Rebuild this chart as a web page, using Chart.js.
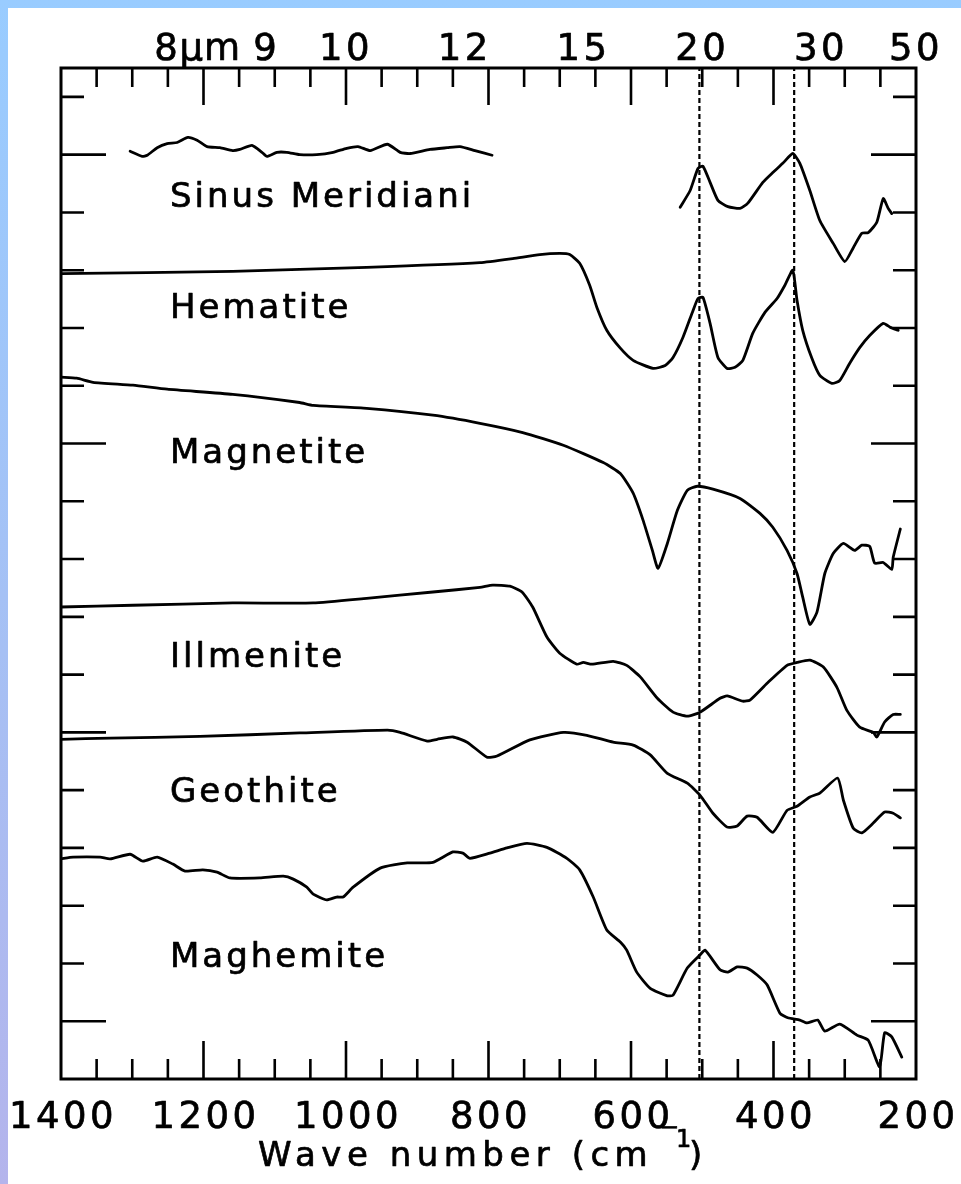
<!DOCTYPE html>
<html>
<head>
<meta charset="utf-8">
<title>Infrared spectra of iron oxides</title>
<script src="https://cdn.jsdelivr.net/npm/chart.js@4.4.1/dist/chart.umd.min.js"></script>
<style>
  html, body { margin: 0; padding: 0; }
  body {
    width: 961px; height: 1184px; overflow: hidden; position: relative;
    background: linear-gradient(to bottom, #99ccff 0%, #a6c0f4 55%, #b4b4ec 100%);
  }
  #wrap { position: absolute; left: 8px; top: 8px; width: 953px; height: 1176px; background: #fff; }
  canvas { display: block; }
</style>
</head>
<body>
<div id="wrap"><canvas id="spectraChart" width="953" height="1176"></canvas></div>
<script>
// wave numbers (cm-1) and offset values, one pair of arrays per curve
const sinusWn = [1303, 1286, 1279, 1265, 1251, 1237, 1222, 1209, 1195, 1177, 1159, 1149, 1132, 1118, 1111, 1097, 1083, 1065, 1041, 1018, 999, 983, 966, 942, 924, 910, 882, 858, 840, 819, 795,
  660,
  531, 517, 506, 499, 489, 478, 464, 447, 436, 415, 401, 387, 373, 363, 349, 335, 316, 300, 288, 276, 267, 255, 246, 239, 234];
const sinusVal = [16.06, 15.97, 15.99, 16.12, 16.19, 16.21, 16.30, 16.25, 16.14, 16.12, 16.07, 16.09, 16.16, 16.04, 15.97, 16.04, 16.04, 16.00, 16.00, 16.04, 16.11, 16.14, 16.07, 16.18, 16.04, 16.02, 16.09, 16.12, 16.14, 16.07, 15.99,
  null,
  15.09, 15.38, 15.76, 15.80, 15.52, 15.21, 15.10, 15.07, 15.16, 15.52, 15.69, 15.85, 16.02, 15.85, 15.38, 14.86, 14.46, 14.15, 14.39, 14.64, 14.65, 14.83, 15.24, 15.07, 14.98];

const hematiteWn = [1400, 1159, 971, 812, 766, 728, 700, 686, 672, 658, 648, 634, 615, 597, 569, 552, 541, 527, 513, 506, 499, 489, 478, 465, 454, 443, 429, 412, 395, 384, 373, 367, 359, 346, 335, 318, 307, 293, 279, 265, 246, 236, 225];
const hematiteVal = [13.94, 13.98, 14.05, 14.13, 14.20, 14.27, 14.29, 14.27, 14.12, 13.74, 13.36, 12.96, 12.65, 12.44, 12.30, 12.35, 12.49, 12.84, 13.30, 13.51, 13.53, 13.08, 12.49, 12.30, 12.32, 12.44, 12.91, 13.27, 13.51, 13.74, 14.00, 13.48, 12.96, 12.47, 12.18, 12.04, 12.09, 12.39, 12.66, 12.87, 13.08, 13.01, 12.96];

const magnetiteWn = [1400, 1378, 1355, 1299, 1251, 1159, 1065, 1046, 971, 878, 812, 752, 695, 639, 615, 597, 583, 570, 562, 549, 535, 521, 507, 485, 447, 419, 401, 381, 367, 359, 349, 339, 328, 316, 302, 286, 276, 265, 258, 246, 234, 232, 222];
const magnetiteVal = [12.15, 12.13, 12.06, 12.01, 11.94, 11.85, 11.71, 11.66, 11.61, 11.49, 11.35, 11.19, 10.97, 10.67, 10.48, 10.14, 9.67, 9.15, 8.84, 9.27, 9.84, 10.19, 10.26, 10.21, 10.05, 9.79, 9.55, 9.15, 8.75, 8.34, 7.87, 8.08, 8.75, 9.10, 9.27, 9.15, 9.24, 9.22, 8.93, 8.94, 8.82, 9.03, 9.52];

const ilmeniteWn = [1400, 1299, 1159, 1046, 971, 878, 812, 794, 770, 753, 738, 718, 700, 676, 667, 655, 625, 606, 587, 563, 541, 521, 503, 475, 465, 443, 433, 409, 381, 367, 349, 330, 311, 297, 279, 260, 255, 244, 232, 222];
const ilmeniteVal = [8.17, 8.20, 8.24, 8.24, 8.32, 8.43, 8.51, 8.55, 8.53, 8.43, 8.17, 7.65, 7.37, 7.18, 7.21, 7.18, 7.23, 7.16, 6.96, 6.59, 6.35, 6.28, 6.35, 6.59, 6.63, 6.54, 6.56, 6.85, 7.16, 7.21, 7.25, 7.13, 6.78, 6.38, 6.09, 6.00, 5.92, 6.18, 6.31, 6.31];

const goethiteWn = [1400, 1331, 1205, 1065, 942, 924, 886, 872, 850, 830, 802, 788, 742, 695, 662, 625, 597, 573, 549, 521, 503, 485, 465, 451, 437, 423, 401, 381, 367, 349, 335, 310, 302, 288, 276, 260, 244, 232, 222];
const goethiteVal = [5.88, 5.90, 5.93, 5.99, 6.04, 6.00, 5.85, 5.88, 5.92, 5.83, 5.57, 5.59, 5.87, 6.00, 5.95, 5.83, 5.78, 5.61, 5.29, 5.12, 4.91, 4.60, 4.36, 4.38, 4.55, 4.53, 4.27, 4.65, 4.72, 4.88, 4.95, 5.21, 4.83, 4.34, 4.26, 4.43, 4.62, 4.60, 4.52];

const maghemiteWn = [1400, 1383, 1345, 1331, 1303, 1285, 1265, 1243, 1226, 1201, 1181, 1163, 1121, 1088, 1074, 1055, 1046, 1027, 1013, 1004, 990, 952, 914, 878, 850, 836, 826, 798, 774, 746, 718, 690, 672, 653, 634, 615, 606, 592, 573, 549, 541, 521, 503, 496, 475, 464, 451, 437, 423, 409, 391, 380, 363, 353, 338, 328, 307, 283, 267, 251, 244, 234, 220];
const maghemiteVal = [3.81, 3.84, 3.84, 3.81, 3.89, 3.77, 3.84, 3.72, 3.60, 3.62, 3.58, 3.48, 3.48, 3.51, 3.46, 3.32, 3.20, 3.10, 3.15, 3.15, 3.32, 3.65, 3.74, 3.75, 3.93, 3.91, 3.82, 3.91, 4.00, 4.08, 4.01, 3.82, 3.62, 3.15, 2.58, 2.37, 2.23, 1.85, 1.57, 1.44, 1.45, 1.92, 2.15, 2.23, 1.89, 1.85, 1.94, 1.92, 1.80, 1.63, 1.14, 1.06, 1.02, 0.97, 1.02, 0.83, 0.95, 0.76, 0.67, 0.21, 0.80, 0.73, 0.38];

const curveNames = ['Sinus Meridiani', 'Hematite', 'Magnetite', 'Illmenite', 'Geothite', 'Maghemite'];
const bandCenters = [504, 371];               // dashed reference lines, cm-1
const bottomTicks = [1400, 1200, 1000, 800, 600, 400, 200];
const topMicrons = [8, 9, 10, 12, 15, 20, 30, 50];

// where the curve names sit (baseline, in y units) - layout only
const nameBaseline = [15.09, 13.17, 10.66, 7.13, 4.79, 1.94];
const nameX = 1247;

function pairs(xs, ys) {
  return xs.map((v, i) => ({ x: v, y: ys[i] }));
}

const curves = [
  [sinusWn, sinusVal], [hematiteWn, hematiteVal], [magnetiteWn, magnetiteVal],
  [ilmeniteWn, ilmeniteVal], [goethiteWn, goethiteVal], [maghemiteWn, maghemiteVal]
];

const datasets = [];
bandCenters.forEach(function (wn) {
  datasets.push({
    label: 'band ' + wn,
    data: [{ x: wn, y: 0 }, { x: wn, y: 17.5 }],
    borderColor: '#000', borderWidth: 2.2, borderDash: [5, 3], tension: 0
  });
});
curves.forEach(function (c, i) {
  datasets.push({
    label: curveNames[i],
    data: pairs(c[0], c[1]),
    borderColor: '#000', borderWidth: 2.8, tension: 0.18, spanGaps: false,
    borderJoinStyle: 'round', borderCapStyle: 'round'
  });
});

function spacing(ctx, s) {
  if ('letterSpacing' in ctx) ctx.letterSpacing = s;
}

// text a little heavier, like the plotted lettering
function text(ctx, s, x, y) {
  ctx.fillText(s, x, y);
  ctx.strokeText(s, x, y);
}

// box, inward ticks, tick labels, curve names and axis title
const framePlugin = {
  id: 'frame',
  afterDatasetsDraw(chart) {
    const { ctx, chartArea: a, scales: { x, y } } = chart;
    ctx.save();
    ctx.strokeStyle = '#000';
    ctx.lineWidth = 3;
    ctx.strokeRect(a.left, a.top, a.right - a.left, a.bottom - a.top);

    ctx.lineWidth = 2.6;
    ctx.beginPath();
    for (let wn = 250; wn < 1400; wn += 50) {
      const px = x.getPixelForValue(wn);
      const len = wn % 200 === 0 ? 38 : 20;
      ctx.moveTo(px, a.bottom); ctx.lineTo(px, a.bottom - len);
      ctx.moveTo(px, a.top); ctx.lineTo(px, a.top + len - 1);
    }
    for (let v = 1; v <= 17; v++) {
      const py = y.getPixelForValue(v);
      const len = v % 5 === 1 ? 45 : 23;
      ctx.moveTo(a.left, py); ctx.lineTo(a.left + len, py);
      ctx.moveTo(a.right, py); ctx.lineTo(a.right - len, py);
    }
    ctx.stroke();

    ctx.fillStyle = '#000';
    ctx.lineWidth = 0.7;
    ctx.lineJoin = 'round';
    ctx.textBaseline = 'alphabetic';

    // bottom wave number labels
    ctx.font = '37px "DejaVu Sans"';
    spacing(ctx, '3.5px');
    ctx.textAlign = 'center';
    bottomTicks.forEach(function (v) {
      text(ctx, String(v), x.getPixelForValue(v) + 2, a.bottom + 49);
    });

    // top wavelength labels (micrometres)
    topMicrons.forEach(function (um) {
      const px = x.getPixelForValue(10000 / um);
      ctx.textAlign = 'center';
      text(ctx, String(um), px, a.top - 8);
      if (um === 8) {
        const w = ctx.measureText('8').width;
        ctx.textAlign = 'left';
        spacing(ctx, '1px');
        text(ctx, '\u03bcm', px + w / 2 - 2, a.top - 8);
        spacing(ctx, '3.5px');
      }
    });

    // curve names
    ctx.font = '34px "DejaVu Sans"';
    spacing(ctx, '3px');
    ctx.textAlign = 'left';
    curveNames.forEach(function (name, i) {
      text(ctx, name, x.getPixelForValue(nameX), y.getPixelForValue(nameBaseline[i]));
    });

    // axis title with its (misplaced) superscript
    ctx.font = '34px "DejaVu Sans"';
    spacing(ctx, '5.5px');
    text(ctx, 'Wave number (cm', 250, 1158);
    ctx.font = '24px "DejaVu Sans"';
    spacing(ctx, '0px');
    text(ctx, '\u2212', 651, 1127);
    text(ctx, '1', 668, 1139);
    ctx.font = '34px "DejaVu Sans"';
    text(ctx, ')', 681, 1158);
    ctx.restore();
  }
};

document.addEventListener('DOMContentLoaded', function () {
  const spectraCtx = document.getElementById('spectraChart');
  new Chart(spectraCtx, {
    type: 'line',
    data: { datasets: datasets },
    options: {
      responsive: false,
      animation: false,
      layout: { padding: { left: 53, right: 45, top: 60, bottom: 105 } },
      plugins: { legend: { display: false }, tooltip: { enabled: false } },
      elements: { point: { radius: 0 } },
      scales: {
        x: { type: 'linear', reverse: true, min: 200, max: 1400, display: false },
        y: { type: 'linear', min: 0, max: 17.5, display: false }
      }
    },
    plugins: [framePlugin]
  });
});
</script>
</body>
</html>
